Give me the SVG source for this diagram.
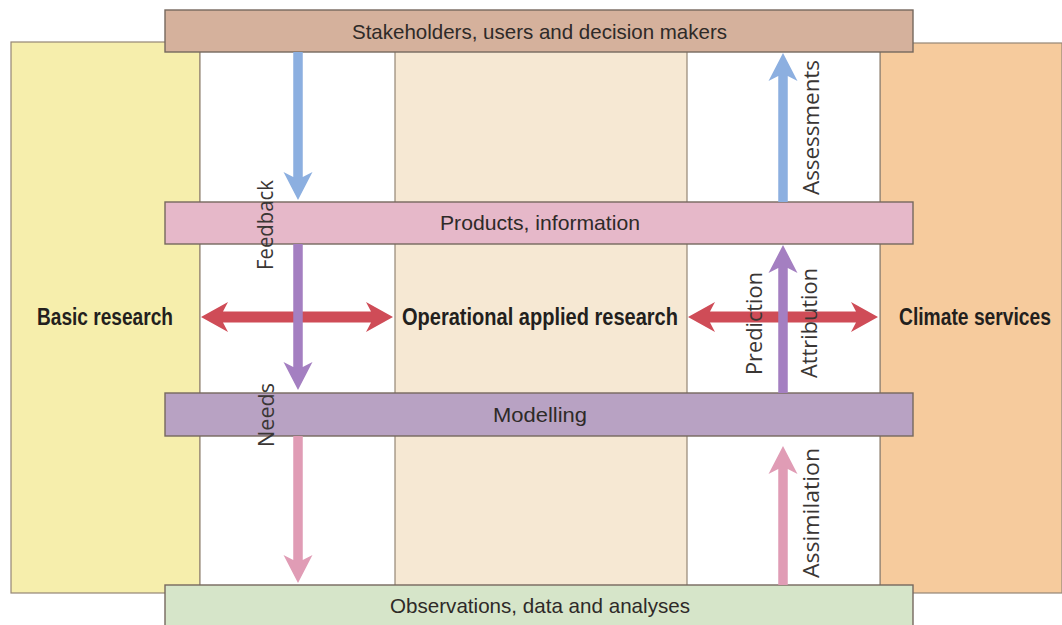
<svg xmlns="http://www.w3.org/2000/svg" width="1062" height="625" viewBox="0 0 1062 625">
<style>
.panel{stroke:#958675;stroke-width:1.2}
.bar{stroke:#76685e;stroke-width:1.4}
.bartxt{font-family:"Liberation Sans",Arial,sans-serif;font-size:21px;fill:#2e2a28;text-anchor:middle}
.paneltxt{font-family:"Liberation Sans",Arial,sans-serif;font-size:23px;font-weight:bold;fill:#231f1d;text-anchor:middle}
.vlab{font-family:"Open Sans","DejaVu Sans",sans-serif;font-size:21.5px;fill:#3a3634;text-anchor:middle}
.blue{fill:#8cafe0}
.purple{fill:#a47fc1}
.pink{fill:#e09cb5}
.red{fill:#cf4c57}
</style>
<rect width="1062" height="625" fill="#ffffff"/>
<g id="panel-basic">
<rect class="panel" x="11" y="42" width="189" height="551" fill="#f6eeac"/>
<text class="paneltxt" x="105" y="325" textLength="136" lengthAdjust="spacingAndGlyphs">Basic research</text>
</g>
<g id="panel-climate">
<rect class="panel" x="880" y="43" width="182" height="550" fill="#f6cb9d"/>
<text class="paneltxt" x="975" y="325" textLength="152" lengthAdjust="spacingAndGlyphs">Climate services</text>
</g>
<g id="gap-columns">
<rect class="panel" x="200" y="42" width="680" height="551" fill="#ffffff"/>
</g>
<g id="panel-operational">
<rect class="panel" x="395" y="42" width="292" height="551" fill="#f6e8d3"/>
<text class="paneltxt" x="540" y="325" textLength="276" lengthAdjust="spacingAndGlyphs">Operational applied research</text>
</g>
<g id="bar-stakeholders">
<rect class="bar" x="165" y="10" width="748" height="42" fill="#d5b19c"/>
<text class="bartxt" x="539.5" y="39" textLength="375" lengthAdjust="spacingAndGlyphs">Stakeholders, users and decision makers</text>
</g>
<g id="bar-products">
<rect class="bar" x="165" y="202" width="748" height="42" fill="#e6b8c9"/>
<text class="bartxt" x="540" y="230" textLength="200" lengthAdjust="spacingAndGlyphs">Products, information</text>
</g>
<g id="bar-modelling">
<rect class="bar" x="165" y="393" width="748" height="43" fill="#b8a2c3"/>
<text class="bartxt" x="540" y="422" textLength="94" lengthAdjust="spacingAndGlyphs">Modelling</text>
</g>
<g id="bar-observations">
<rect class="bar" x="165" y="585" width="748" height="45" fill="#d6e5c9"/>
<text class="bartxt" x="540" y="613" textLength="300" lengthAdjust="spacingAndGlyphs">Observations, data and analyses</text>
</g>
<g id="connectors">
<path class="red" d="M201,317 L228,302 L223,311.5 H371 L366,302 L393,317 L366,332 L371,322.5 H223 L228,332 Z"/>
<path class="red" d="M688,317 L715,302 L710,311.5 H856 L851,302 L878,317 L851,332 L856,322.5 H710 L715,332 Z"/>
<path class="blue" d="M293.25,52 H302.75 V177 L312.5,172 L298,200 L283.5,172 L293.25,177 Z"/>
<path class="purple" d="M293.25,244 H302.75 V367 L312.5,362 L298,390 L283.5,362 L293.25,367 Z"/>
<path class="pink" d="M293.25,436 H302.75 V560 L312.5,555 L298,583 L283.5,555 L293.25,560 Z"/>
<path class="blue" d="M778.25,202 H787.75 V76 L797.5,81 L783,53 L768.5,81 L778.25,76 Z"/>
<path class="purple" d="M778.25,393 H787.75 V268 L797.5,273 L783,245 L768.5,273 L778.25,268 Z"/>
<path class="pink" d="M778.25,585 H787.75 V469 L797.5,474 L783,446 L768.5,474 L778.25,469 Z"/>
<text class="vlab" transform="translate(273,225) rotate(-90)" textLength="90" lengthAdjust="spacingAndGlyphs">Feedback</text>
<text class="vlab" transform="translate(274,415) rotate(-90)" textLength="64" lengthAdjust="spacingAndGlyphs">Needs</text>
<text class="vlab" transform="translate(819,127.5) rotate(-90)" textLength="135" lengthAdjust="spacingAndGlyphs">Assessments</text>
<text class="vlab" transform="translate(762,323.5) rotate(-90)" textLength="103" lengthAdjust="spacingAndGlyphs">Prediction</text>
<text class="vlab" transform="translate(817,323) rotate(-90)" textLength="110" lengthAdjust="spacingAndGlyphs">Attribution</text>
<text class="vlab" transform="translate(819,513) rotate(-90)" textLength="130" lengthAdjust="spacingAndGlyphs">Assimilation</text>
</g>
</svg>
